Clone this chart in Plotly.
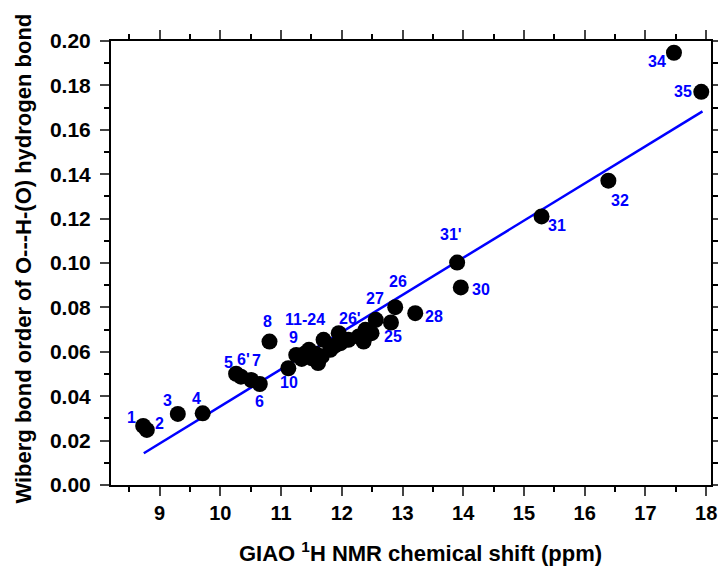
import plotly.graph_objects as go

# --- data ---
labelled_names = ["1", "2", "3", "4", "5", "6'", "7", "6", "8", "10",
                  "27", "25", "26", "28", "31'", "30", "31", "32", "34", "35"]
labelled_x = [8.73, 8.79, 9.30, 9.71, 10.26, 10.34, 10.51, 10.65, 10.81, 11.12,
              12.56, 12.81, 12.88, 13.21, 13.90, 13.96, 15.29, 16.39, 17.47, 17.92]
labelled_y = [0.0266, 0.0248, 0.0320, 0.0323, 0.0501, 0.0488, 0.0473, 0.0455, 0.0646, 0.0526,
              0.0744, 0.0732, 0.0801, 0.0774, 0.1002, 0.0890, 0.1210, 0.1371, 0.1947, 0.1771]

# cluster of points 9, 11-24 and 26'
cluster_x = [11.25, 11.34, 11.40, 11.46, 11.51, 11.57, 11.61, 11.67, 11.70, 11.81,
             11.88, 11.95, 11.98, 12.05, 12.11, 12.28, 12.36, 12.39, 12.49]
cluster_y = [0.0586, 0.0568, 0.0594, 0.0609, 0.0571, 0.0591, 0.0549, 0.0579, 0.0654, 0.0609,
             0.0627, 0.0684, 0.0639, 0.0654, 0.0654, 0.0669, 0.0646, 0.0699, 0.0684]
cluster_label_names = ["9", "11-24", "26'"]
cluster_label_index = [0, 2, 14]

# linear fit line (end points)
fit_x = [8.74, 17.94]
fit_y = [0.0143, 0.1683]

x_ticks = [9, 10, 11, 12, 13, 14, 15, 16, 17, 18]

x_title = "GIAO <sup>1</sup>H NMR chemical shift (ppm)"
y_title = "Wiberg bond order of O---H-(O) hydrogen bond"

# label offsets in pixels (dx right, dy down) -- styling only
label_offsets = {
    "1": (-12, -8), "2": (13, -6), "3": (-10, -13), "4": (-6, -15), "5": (-8, -11),
    "6'": (3, -17), "7": (5, -19), "6": (0, 18), "8": (-2, -20), "10": (1, 14),
    "27": (-1, -21), "25": (2, 14), "26": (3, -26), "28": (19, 3), "31'": (-6, -28),
    "30": (20, 2), "31": (15, 9), "32": (12, 20), "34": (-17, 9), "35": (-18, 0),
    "9": (-3, -17), "11-24": (0, -34), "26'": (2, -21),
}

BLUE = "#0000FF"
FONT = "Liberation Sans, Arial, sans-serif"

all_x = labelled_x + cluster_x
all_y = labelled_y + cluster_y

fig = go.Figure()
fig.add_trace(go.Scatter(x=fit_x, y=fit_y, mode="lines",
                         line=dict(color=BLUE, width=2.5), showlegend=False))
fig.add_trace(go.Scatter(x=all_x, y=all_y, mode="markers",
                         marker=dict(color="black", size=16, line=dict(width=0)),
                         showlegend=False))

annotations = []
def add_label(name, x, y):
    dx, dy = label_offsets[name]
    annotations.append(dict(x=x, y=y, xref="x", yref="y", text=name, showarrow=False,
                            xshift=dx, yshift=-dy,
                            font=dict(family=FONT, size=16, color=BLUE, weight="bold")))

for n, x, y in zip(labelled_names, labelled_x, labelled_y):
    add_label(n, x, y)
for n, i in zip(cluster_label_names, cluster_label_index):
    add_label(n, cluster_x[i], cluster_y[i])

# axis titles placed as annotations for exact placement
annotations.append(dict(x=-0.145, y=0.51, xref="paper", yref="paper", text=y_title,
                        textangle=-90, showarrow=False, xanchor="center", yanchor="middle",
                        font=dict(family=FONT, size=22, color="black", weight="bold")))
annotations.append(dict(x=0.515, y=-0.152, xref="paper", yref="paper", text=x_title,
                        showarrow=False, xanchor="center", yanchor="middle",
                        font=dict(family=FONT, size=22, color="black", weight="bold")))

fig.update_layout(
    width=718, height=568,
    margin=dict(l=111, r=7, t=41, b=83),
    plot_bgcolor="white", paper_bgcolor="white",
    font=dict(family=FONT, color="black"),
    annotations=annotations,
    xaxis=dict(range=[8.2, 18.08], tickvals=x_ticks, ticks="outside", ticklen=9, tickwidth=2,
               showline=True, linecolor="black", linewidth=2, mirror="ticks", showgrid=False,
               zeroline=False, automargin=False, ticklabeloverflow="allow",
               minor=dict(dtick=0.5, tick0=8.5, ticks="outside", ticklen=5, tickwidth=2,
                          tickcolor="black", showgrid=False),
               tickfont=dict(family=FONT, size=20, color="black", weight="bold")),
    yaxis=dict(range=[0, 0.2], dtick=0.02, tickformat=".2f", ticks="outside", ticklen=9,
               tickwidth=2, showline=True, linecolor="black", linewidth=2, mirror="ticks",
               showgrid=False, zeroline=False, ticklabelstandoff=5, automargin=False,
               ticklabeloverflow="allow",
               minor=dict(dtick=0.01, ticks="outside", ticklen=5, tickwidth=2,
                          tickcolor="black", showgrid=False),
               tickfont=dict(family=FONT, size=21, color="black", weight="bold")),
)

fig.write_html("out.html")
